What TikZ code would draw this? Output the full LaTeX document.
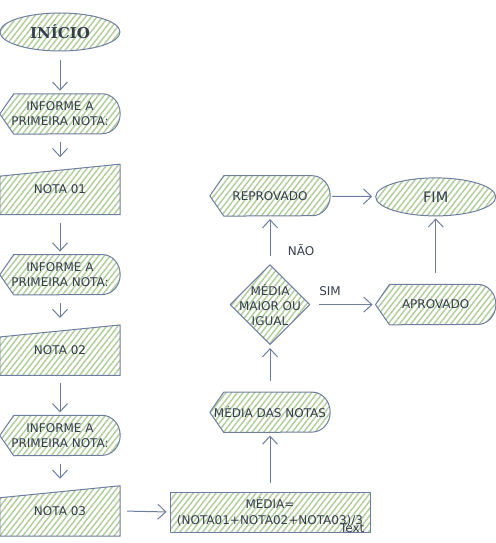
\documentclass[tikz,border=0pt]{standalone}
\usepackage{fontspec}
\setmainfont{DejaVu Sans}
\newfontfamily\titulofont{DejaVu Serif}
\usepackage{xcolor}
\usepackage{tikz}
\usetikzlibrary{shapes.geometric, arrows.meta, positioning, calc, patterns.meta, backgrounds}
\definecolor{linhaazul}{RGB}{110,126,160}
\definecolor{hachura}{RGB}{178,206,158}
\definecolor{textoescuro}{RGB}{55,62,78}
\tikzset{
  hach/.style={pattern={Lines[angle=52,distance=4.5pt,line width=1.5pt]}, pattern color=hachura},
  contorno/.style={draw=linhaazul, line width=1pt, line join=round, hach},
  inicio/.style={ellipse, minimum width=120pt, minimum height=38pt, inner sep=0pt, contorno, font=\titulofont\bfseries\fontsize{15}{18}\selectfont},
  fim/.style={ellipse, minimum width=120pt, minimum height=38pt, inner sep=0pt, contorno, font=\fontsize{14.5}{17}\selectfont},
  tela/.style={rectangle, minimum width=120pt, minimum height=40pt, inner sep=0pt, align=center},
  entrada/.style={rectangle, minimum width=120pt, minimum height=50pt, inner sep=0pt, align=center},
  caixa/.style={rectangle, minimum width=200pt, minimum height=40pt, inner sep=0pt, align=center, contorno},
  losango/.style={diamond, minimum width=80pt, minimum height=80pt, inner sep=0pt, contorno},
  seta/.style={draw=linhaazul, line width=1pt, -{Straight Barb[length=8pt,width=15pt]}, shorten <=8pt, shorten >=3pt}
}

\begin{document}
\begin{tikzpicture}[x=1pt, y=1pt, font=\fontsize{12}{15}\selectfont, text=textoescuro]
  \useasboundingbox (0,0) rectangle (495,-543);

  % coluna da esquerda
  \node (inicio) [inicio] at (60,-32) {INÍCIO};
  \node (info1) [tela, below=42pt of inicio] {INFORME A\\ PRIMEIRA NOTA:};
  \node (nota1) [entrada, below=30pt of info1] {NOTA 01};
  \node (info2) [tela, below=40pt of nota1] {INFORME A\\ PRIMEIRA NOTA:};
  \node (nota2) [entrada, below=30pt of info2] {NOTA 02};
  \node (info3) [tela, below=40pt of nota2] {INFORME A\\ PRIMEIRA NOTA:};
  \node (nota3) [entrada, below=30pt of info3] {NOTA 03};

  % coluna da direita
  \node (media) [caixa, font=\fontsize{12}{16}\selectfont] at (270,-512) {MÉDIA=\\(NOTA01+NOTA02+NOTA03)/3};
  \node (rotulo) [anchor=south east, inner sep=0pt] at ([xshift=-6pt]media.south east) {Text};
  \node (mediadas) [tela, above=59pt of media] {MÉDIA DAS NOTAS};
  \node (decisao) [losango, above=47pt of mediadas] {};
  \node at (decisao.center) [align=center] {MÉDIA\\ MAIOR OU\\ IGUAL};
  \node (reprovado) [tela, above=48pt of decisao] {REPROVADO};
  \node (aprovado) [tela, right=65pt of decisao] {APROVADO};
  \node (fim) [fim] at ([yshift=-1pt]aprovado |- reprovado) {FIM};

  \begin{scope}[on background layer]
    \foreach \t in {info1,info2,info3,mediadas,reprovado,aprovado}
      \draw [contorno] (\t.west) -- ([xshift=14pt]\t.north west) -- ([xshift=-18pt]\t.north east)
        arc[start angle=90, end angle=-90, x radius=18pt, y radius=20pt] -- ([xshift=14pt]\t.south west) -- cycle;
    \foreach \n in {nota1,nota2,nota3}
      \draw [contorno] (\n.south west) -- ([yshift=-12pt]\n.north west) -- (\n.north east) -- (\n.south east) -- cycle;
  \end{scope}

  \draw [seta] (inicio) -- (info1);
  \draw [seta, shorten >=7pt] (info1) -- (nota1);
  \draw [seta] (nota1) -- (info2);
  \draw [seta, shorten >=7pt] (info2) -- (nota2);
  \draw [seta] (nota2) -- (info3);
  \draw [seta, shorten >=7pt] (info3) -- (nota3);
  \draw [seta, shorten <=7pt] (nota3.east) -- (media.west);
  \draw [seta, shorten <=9pt] (media) -- (mediadas);
  \draw [seta, shorten <=11pt] (mediadas) -- (decisao);
  \draw [seta] (decisao) -- (reprovado) node [pos=0.3, right=14pt] {NÃO};
  \draw [seta] (decisao) -- (aprovado) node [pos=0.3, above=5pt] {SIM};
  \draw [seta, shorten <=2pt] (reprovado) -- (fim);
  \draw [seta, shorten <=11pt, shorten >=2pt] (aprovado) -- (fim);
\end{tikzpicture}
\end{document}
